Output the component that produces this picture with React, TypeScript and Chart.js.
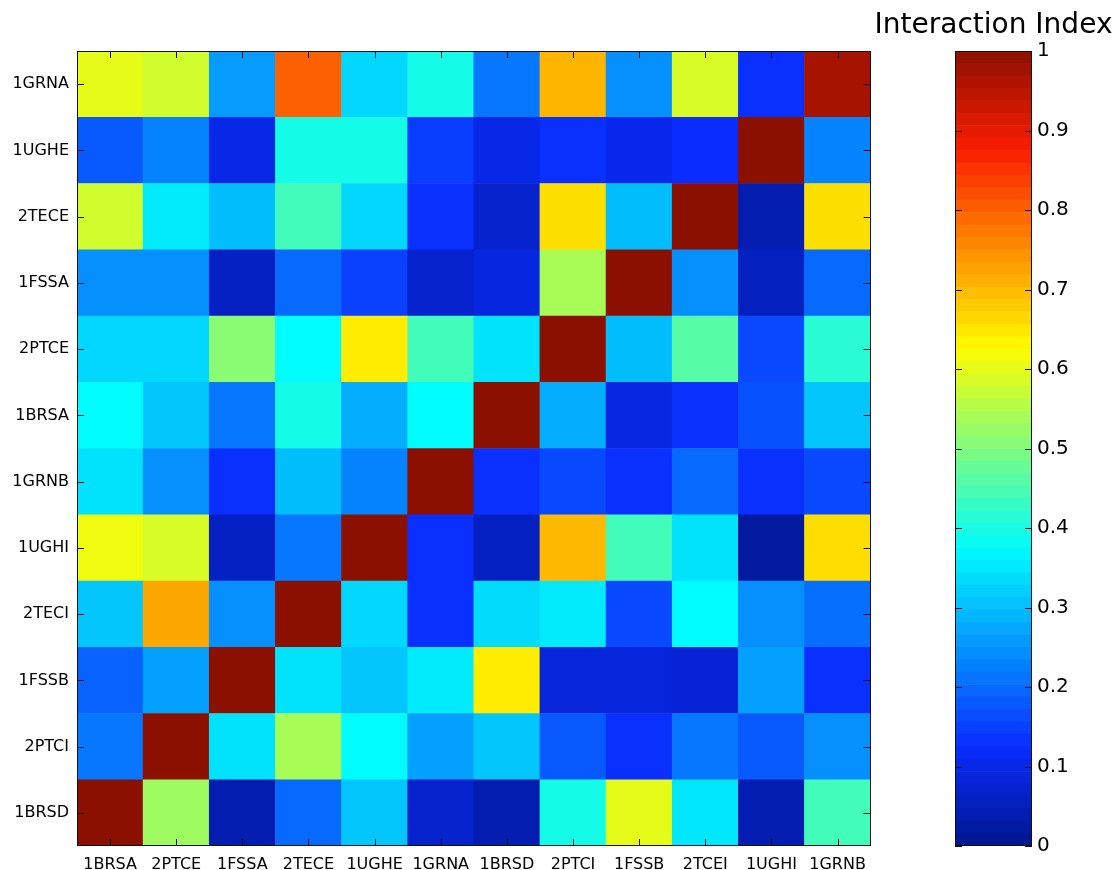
import React, { useEffect, useRef } from 'react';
import { Chart, registerables } from 'chart.js';

Chart.register(...registerables);

// ---- categories / tick labels ----
const colLabels = ['1BRSA', '2PTCE', '1FSSA', '2TECE', '1UGHE', '1GRNA', '1BRSD', '2PTCI', '1FSSB', '2TCEI', '1UGHI', '1GRNB'];
// rows listed top to bottom as they appear in the picture
const rowLabels = ['1GRNA', '1UGHE', '2TECE', '1FSSA', '2PTCE', '1BRSA', '1GRNB', '1UGHI', '2TECI', '1FSSB', '2PTCI', '1BRSD'];

// ---- interaction index values, one array per row (top to bottom) ----
const row1GRNA = [0.60, 0.58, 0.26, 0.80, 0.33, 0.395, 0.215, 0.705, 0.245, 0.587, 0.13, 0.97];
const row1UGHE = [0.18, 0.23, 0.10, 0.395, 0.395, 0.145, 0.10, 0.13, 0.105, 0.125, 1.0, 0.23];
const row2TECE = [0.58, 0.355, 0.30, 0.44, 0.33, 0.13, 0.07, 0.657, 0.30, 1.0, 0.04, 0.657];
const row1FSSA = [0.245, 0.245, 0.06, 0.20, 0.15, 0.07, 0.09, 0.54, 1.0, 0.245, 0.055, 0.20];
const row2PTCE = [0.33, 0.33, 0.51, 0.375, 0.643, 0.44, 0.345, 1.0, 0.30, 0.46, 0.16, 0.415];
const row1BRSA = [0.375, 0.31, 0.215, 0.395, 0.28, 0.375, 1.0, 0.28, 0.095, 0.13, 0.17, 0.31];
const row1GRNB = [0.345, 0.245, 0.13, 0.30, 0.23, 1.0, 0.13, 0.16, 0.13, 0.20, 0.13, 0.16];
const row1UGHI = [0.61, 0.587, 0.06, 0.215, 1.0, 0.13, 0.057, 0.70, 0.44, 0.345, 0.02, 0.66];
const row2TECI = [0.31, 0.72, 0.245, 1.0, 0.33, 0.13, 0.335, 0.355, 0.16, 0.375, 0.245, 0.205];
const row1FSSB = [0.19, 0.265, 1.0, 0.345, 0.31, 0.355, 0.643, 0.085, 0.085, 0.08, 0.265, 0.13];
const row2PTCI = [0.215, 1.0, 0.345, 0.54, 0.375, 0.265, 0.31, 0.18, 0.13, 0.215, 0.18, 0.245];
const row1BRSD = [1.0, 0.53, 0.04, 0.20, 0.31, 0.07, 0.04, 0.395, 0.60, 0.35, 0.04, 0.44];

const rowsTopDown = [row1GRNA, row1UGHE, row2TECE, row1FSSA, row2PTCE, row1BRSA, row1GRNB, row1UGHI, row2TECI, row1FSSB, row2PTCI, row1BRSD];

// ---- colour bar ----
const colorbarTicks = [0, 0.1, 0.2, 0.3, 0.4, 0.5, 0.6, 0.7, 0.8, 0.9, 1];
const colorbarLevels = 64;
const colorbarTitle = 'Interaction Index';

// ---- jet-like colormap stops ----
const cmapStops = [0, 0.125, 0.375, 0.625, 0.875, 1];
const cmapRed = [0, 10, 0, 255, 250, 140];
const cmapGreen = [22, 44, 252, 252, 30, 16];
const cmapBlue = [140, 255, 252, 0, 0, 0];

function cmap(v: number): string {
  const t = Math.max(0, Math.min(1, v));
  let i = 0;
  while (i < cmapStops.length - 2 && t > cmapStops[i + 1]) i++;
  const f = (t - cmapStops[i]) / (cmapStops[i + 1] - cmapStops[i]);
  const lerp = (a: number[]) => Math.round(a[i] + (a[i + 1] - a[i]) * f);
  return `rgb(${lerp(cmapRed)},${lerp(cmapGreen)},${lerp(cmapBlue)})`;
}

const FONT = "'DejaVu Sans', sans-serif";
const TICK_LEN = 7;

const frameTicksPlugin = {
  id: 'frameTicks',
  afterDraw(chart: any) {
    const { ctx, chartArea } = chart;
    const { left, right, top, bottom } = chartArea;
    ctx.save();
    ctx.strokeStyle = '#111';
    ctx.lineWidth = 1;
    ctx.beginPath();
    const xs = chart.scales.x;
    if (xs && xs.options.display !== false) {
      xs.ticks.forEach((_: any, i: number) => {
        const px = Math.round(xs.getPixelForTick(i)) + 0.5;
        ctx.moveTo(px, bottom);
        ctx.lineTo(px, bottom - TICK_LEN);
        ctx.moveTo(px, top);
        ctx.lineTo(px, top + TICK_LEN);
      });
    }
    const ys = chart.scales.y;
    if (ys) {
      ys.ticks.forEach((_: any, i: number) => {
        const py = Math.round(ys.getPixelForTick(i)) + 0.5;
        ctx.moveTo(left, py);
        ctx.lineTo(left + TICK_LEN, py);
        ctx.moveTo(right, py);
        ctx.lineTo(right - TICK_LEN, py);
      });
    }
    ctx.stroke();
    ctx.strokeRect(Math.round(left) + 0.5, Math.round(top) + 0.5, Math.round(right - left) - 1, Math.round(bottom - top) - 1);
    ctx.restore();
  },
};

export default function App() {
  const heatRef = useRef<HTMLCanvasElement>(null);
  const barRef = useRef<HTMLCanvasElement>(null);

  useEffect(() => {
    const rowsBottomUp = rowsTopDown.slice().reverse();
    const labelsBottomUp = rowLabels.slice().reverse();

    const heat = new Chart(heatRef.current as HTMLCanvasElement, {
      type: 'bar',
      data: {
        labels: colLabels,
        datasets: rowsBottomUp.map((vals, r) => ({
          label: labelsBottomUp[r],
          data: vals.map(() => 1),
          backgroundColor: vals.map((v) => cmap(v)),
          borderWidth: 0,
          barPercentage: 1,
          categoryPercentage: 1,
        })),
      },
      options: {
        responsive: false,
        animation: false,
        events: [],
        layout: { padding: { left: 0, right: 3, top: 51, bottom: 0 } },
        plugins: { legend: { display: false }, tooltip: { enabled: false }, title: { display: false } },
        scales: {
          x: {
            type: 'category',
            stacked: true,
            grid: { display: false, drawTicks: false },
            border: { display: false },
            ticks: { color: '#000', font: { family: FONT, size: 16 }, padding: 9, maxRotation: 0, autoSkip: false },
            afterFit: (s: any) => { s.height = 24; },
          },
          y: {
            type: 'linear',
            stacked: true,
            min: 0,
            max: rowLabels.length,
            grid: { display: false, drawTicks: false },
            border: { display: false },
            afterBuildTicks: (s: any) => {
              s.ticks = labelsBottomUp.map((_, i) => ({ value: i + 0.5 }));
            },
            ticks: {
              color: '#000',
              font: { family: FONT, size: 16 },
              padding: 8,
              autoSkip: false,
              callback: (v: any) => labelsBottomUp[Math.floor(Number(v))] ?? '',
            },
            afterFit: (s: any) => { s.width = 77; },
          },
        },
      },
      plugins: [frameTicksPlugin],
    } as any);

    const bands = Array.from({ length: colorbarLevels }, (_, k) => k);
    const cb = new Chart(barRef.current as HTMLCanvasElement, {
      type: 'bar',
      data: {
        labels: [''],
        datasets: bands.map((k) => ({
          data: [1 / colorbarLevels],
          backgroundColor: cmap((k + 0.5) / colorbarLevels),
          borderWidth: 0,
          barPercentage: 1,
          categoryPercentage: 1,
          xAxisID: 'x',
          yAxisID: 'y',
        })),
      },
      options: {
        responsive: false,
        animation: false,
        events: [],
        layout: { padding: { left: 0, right: 0, top: 0, bottom: 24 } },
        plugins: {
          legend: { display: false },
          tooltip: { enabled: false },
          title: {
            display: true,
            text: colorbarTitle,
            color: '#000',
            font: { family: FONT, size: 28, weight: 'normal' },
            padding: { top: 9, bottom: 8.4 },
          },
        },
        scales: {
          x: { type: 'category', stacked: true, display: false },
          y: {
            type: 'linear',
            position: 'right',
            stacked: true,
            min: 0,
            max: 1,
            grid: { display: false, drawTicks: false },
            border: { display: false },
            afterBuildTicks: (s: any) => {
              s.ticks = colorbarTicks.map((v) => ({ value: v }));
            },
            ticks: {
              color: '#000',
              font: { family: FONT, size: 20 },
              padding: 5,
              callback: (v: any) => {
                const n = Number(v);
                return n === 0 || n === 1 ? String(n) : n.toFixed(1);
              },
            },
            afterFit: (s: any) => { s.width = 83; },
          },
          yLeft: {
            type: 'linear',
            position: 'left',
            min: 0,
            max: 1,
            grid: { display: false, drawTicks: false },
            border: { display: false },
            ticks: { display: false },
            afterFit: (s: any) => { s.width = 83; },
          },
        },
      },
      plugins: [frameTicksPlugin],
    } as any);

    return () => {
      heat.destroy();
      cb.destroy();
    };
  }, []);

  return (
    <div style={{ position: 'fixed', left: 0, top: 0, width: 1115, height: 870, background: '#fff' }}>
      <canvas ref={heatRef} width={875} height={870} style={{ position: 'absolute', left: 0, top: 0, display: 'block' }} />
      <canvas ref={barRef} width={243} height={870} style={{ position: 'absolute', left: 872, top: 0, display: 'block' }} />
    </div>
  );
}
